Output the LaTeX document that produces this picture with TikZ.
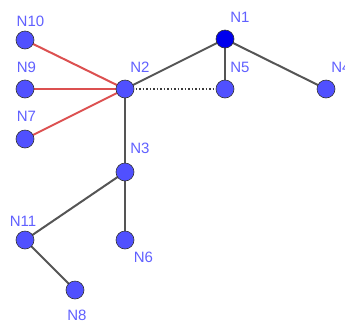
\documentclass[tikz,border=0pt]{standalone}
\usepackage{fontspec}
\setmainfont{Liberation Sans}
\usepackage{tikz}
\usetikzlibrary{calc}
\usetikzlibrary{backgrounds}

\definecolor{ptblue}{RGB}{80,80,255}
\definecolor{ptdark}{RGB}{0,0,238}
\definecolor{lblblue}{RGB}{96,96,255}
\definecolor{edgegray}{RGB}{85,85,85}
\definecolor{edgered}{RGB}{220,80,80}

\tikzset{
  pt/.style={circle,draw=black!80,line width=0.6pt,fill=ptblue,minimum size=18pt,inner sep=0pt},
  lbl/.style={text=lblblue,font=\fontsize{15}{18}\selectfont,inner sep=0pt},
  edge/.style={edgegray,line width=2pt},
  redge/.style={edgered,line width=2pt}
}

\begin{document}
\begin{tikzpicture}[x=1pt,y=-1pt]
  \useasboundingbox (0,0) rectangle (345,325);

  % Vertices
  \node[pt,fill=ptdark] (N1) at (225,39) {};
  \node[pt] (N2) at (125,89) {};
  \node[pt] (N3) at (125,172) {};
  \node[pt] (N4) at (326,89) {};
  \node[pt] (N5) at (225,89) {};
  \node[pt] (N6) at (125,240) {};
  \node[pt] (N7) at (25,139) {};
  \node[pt] (N8) at (75,290) {};
  \node[pt] (N9) at (25,89) {};
  \node[pt] (N10) at (25,40) {};
  \node[pt] (N11) at (25,240) {};

  % The edges
  \begin{pgfonlayer}{background}
  \draw[redge] (N10.center) -- (N2.center);
  \draw[redge] (N9.center) -- (N2.center);
  \draw[redge] (N7.center) -- (N2.center);
  \draw[edge] (N2.center) -- (N1.center);
  \draw[edge] (N1.center) -- (N5.center);
  \draw[edge] (N1.center) -- (N4.center);
  \draw[edge] (N2.center) -- (N3.center);
  \draw[edge] (N3.center) -- (N6.center);
  \draw[edge] (N3.center) -- (N11.center);
  \draw[edge] (N11.center) -- (N8.center);
  \draw[edgegray!70!black,line width=1.5pt,dotted] (N2.center) -- (N5.center);
  \end{pgfonlayer}

  % The labels
  \node[lbl] (t1) at (240,17.5) {N1};
  \node[lbl] (t2) at (140,67.5) {N2};
  \node[lbl] (t3) at (140,148) {N3};
  \node[lbl] (t4) at (341,67.5) {N4};
  \node[lbl] (t5) at (240,67.5) {N5};
  \node[lbl] (t6) at (143.5,257.5) {N6};
  \node[lbl] (t7) at (26.5,116) {N7};
  \node[lbl] (t8) at (77,315) {N8};
  \node[lbl] (t9) at (26.5,67.5) {N9};
  \node[lbl] (t10) at (30.5,21) {N10};
  \node[lbl] (t11) at (23,221) {N11};
\end{tikzpicture}
\end{document}
